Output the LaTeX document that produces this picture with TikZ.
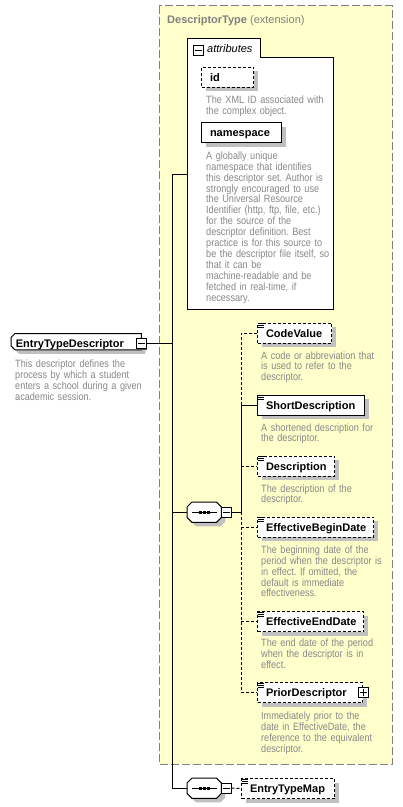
\documentclass[tikz,border=0pt]{standalone}
\usepackage{fontspec}
\setmainfont{Liberation Sans}
\newfontfamily\descfont{Liberation Sans}[FakeStretch=0.86]
\usetikzlibrary{shadows}
\definecolor{ybg}{HTML}{FFFFCC}
\definecolor{ybord}{HTML}{808080}
\definecolor{dgray}{HTML}{888888}
\definecolor{shgray}{HTML}{C0C0C0}
\newcommand\octpath[1]{([xshift=5pt]#1.north west) -- ([xshift=-5pt]#1.north east) -- ([yshift=-5pt]#1.north east) -- ([yshift=5pt]#1.south east) -- ([xshift=-5pt]#1.south east) -- ([xshift=5pt]#1.south west) -- ([yshift=5pt]#1.south west) -- ([yshift=-5pt]#1.north west) -- cycle}
\begin{document}
\frenchspacing
\begin{tikzpicture}[x=1pt,y=-1pt,
  shadowed/.style={drop shadow={shadow xshift=4pt,shadow yshift=-4pt,fill=shgray,opacity=1}},
  elem/.style={draw, fill=white, line width=1pt, inner ysep=0pt, inner xsep=8.5pt, anchor=north west,
    minimum height=20pt, align=left, font=\bfseries\fontsize{11}{13}\selectfont,
    text height=8pt, text depth=0pt, shadowed},
  opt/.style={elem, dash pattern=on 3pt off 2pt},
  desc/.style={anchor=base west, inner sep=0pt, text width=160pt, align=left, text=dgray,
    font=\descfont\fontsize{10.6}{10.9}\selectfont},
  conn/.style={line width=1pt},
  dconn/.style={conn, dash pattern=on 3pt off 2pt},
  ctrl/.style={draw, fill=white, line width=1pt, minimum size=10pt, inner sep=0pt,
    drop shadow={shadow xshift=1pt,shadow yshift=-1pt,fill=black!70,opacity=1}},
  hold/.style={anchor=north west, inner sep=0pt},
]
\useasboundingbox (0,0) rectangle (403,807);
\fill[white] (0,0) rectangle (403,807);

% extension box
\draw[ybord, line width=1pt, dash pattern=on 8pt off 3pt, fill=ybg] (159,5.5) rectangle (392,764);
\node[anchor=base west, inner sep=0pt, text=ybord, font=\fontsize{11}{13}\selectfont] (title) at (167,23)
  {\textbf{DescriptorType} (extension)};

% attributes
\draw[line width=1pt, fill=white] (187,309) -- (187,38) -- (260,38) -- (260,57) -- (333,57) -- (333,309) -- cycle;
\coordinate (attrw) at (187,174);
\node[ctrl] (am) at (198,50) {};
\draw[line width=1pt] ([xshift=2pt]am.west) -- ([xshift=-2pt]am.east);
\node[anchor=base west, inner sep=0pt, font=\itshape\fontsize{11}{13}\selectfont] (attrlbl) at (207,52) {attributes};

\node[opt, text width=35pt] (id) at (201,66.5) {id};
\node[desc] (did) at (206,103.3) {The XML ID associated with\\the complex object.};
\node[elem, text width=63pt] (ns) at (201,122) {namespace};
\node[desc] (dns) at (206,159.3) {A globally unique\\namespace that identifies\\this descriptor set. Author is\\strongly encouraged to use\\the Universal Resource\\Identifier (http, ftp, file, etc.)\\for the source of the\\descriptor definition. Best\\practice is for this source to\\be the descriptor file itself, so\\that it can be\\machine-readable and be\\fetched in real-time, if\\necessary.};

% holders
\node[hold, minimum width=130pt, minimum height=16pt] (etd) at (11,333.5) {};
\node[hold, minimum width=34pt, minimum height=20pt] (seq1) at (187,502) {};
\node[hold, minimum width=34pt, minimum height=20pt] (seq2) at (187,778) {};
\node[ctrl] (etdm) at (141,343.5) {};
\node[ctrl] (m1) at (226,512) {};
\node[ctrl] (m2) at (226,788) {};
\coordinate (tr) at (172.5,174);
\coordinate (br) at (241,300);

% elements
\node[opt, text width=57pt] (cv) at (257,322.5) {CodeValue};
\node[elem, text width=90pt] (sd) at (257,394.5) {ShortDescription};
\node[opt, text width=60pt] (desc) at (257,455.5) {Description};
\node[opt, text width=99pt] (ebd) at (257,516.5) {EffectiveBeginDate};
\node[opt, text width=89pt] (eed) at (257,611) {EffectiveEndDate};
\node[opt, text width=88pt] (pd) at (257,682) {PriorDescriptor};
\node[opt, text width=76pt] (etm) at (241,778) {EntryTypeMap};
\node[ctrl] (pdp) at (363,692) {};
\draw[line width=1pt] ([xshift=2pt]pdp.west) -- ([xshift=-2pt]pdp.east) ([yshift=-2pt]pdp.north) -- ([yshift=2pt]pdp.south);
\foreach \n in {cv,sd,desc,ebd,eed,pd,etm}{
  \foreach \k in {1,3,5}
    \draw[line width=0.7pt] ([xshift=0.5pt,yshift=-\k pt]\n.north west) -- ++(6,0);
}

% connectors
\draw[conn] (etdm.east) -- (etdm.east -| tr);
\draw[conn] (tr) -- (attrw);
\draw[conn] (tr) |- (seq2.west);
\draw[conn] (seq1.west -| tr) -- (seq1.west);
\draw[conn] (m1.east) -- (m1.east -| br);
\draw[dconn] (cv.west) -| (br |- sd.west);
\draw[conn] (br |- sd.west) -- (br |- m1.east);
\draw[dconn] (br |- m1.east) -- (br |- pd.west);
\draw[conn] (br |- sd.west) -- (sd.west);
\draw[dconn] (br |- desc.west) -- (desc.west);
\draw[dconn] (br |- ebd.west) -- (ebd.west);
\draw[dconn] (br |- eed.west) -- (eed.west);
\draw[dconn] (br |- pd.west) -- (pd.west);
\draw[dconn] (m2.east) -- (etm.west);

% ETD shape
\draw[line width=1pt, fill=white, shadowed] ([xshift=4pt]etd.north west) -- (etd.north east) -- (etd.south east) -- ([xshift=4pt]etd.south west) -- ([yshift=4pt]etd.south west) -- ([yshift=-4pt]etd.north west) -- cycle;
\node[anchor=base west, inner sep=0pt, font=\bfseries\fontsize{11}{13}\selectfont] (etdname) at (15.7,347) {EntryTypeDescriptor};
\node[ctrl] (etdm2) at (etdm) {};
\draw[line width=1pt] ([xshift=2pt]etdm2.west) -- ([xshift=-2pt]etdm2.east);
\node[desc] (detd) at (15,367.5) {This descriptor defines the\\process by which a student\\enters a school during a given\\academic session.};

% sequence shapes
\foreach \s/\m in {seq1/m1, seq2/m2}{
  \draw[line width=1pt, fill=white, shadowed] \octpath{\s};
  \draw[line width=1pt] ([xshift=5pt]\s.west) -- ([xshift=-4.5pt]\s.east);
  \foreach \d in {-4,0,4}
    \fill ([xshift=\d pt]\s.center) ++(-1.5,-1.5) rectangle ++(3,3);
  \node[ctrl] at (\m) {};
  \draw[line width=1pt] ([xshift=2pt]\m.west) -- ([xshift=-2pt]\m.east);
}

% descriptions
\node[desc] (dcv) at (261,359) {A code or abbreviation that\\is used to refer to the\\descriptor.};
\node[desc] (dsd) at (261,431) {A shortened description for\\the descriptor.};
\node[desc] (ddesc) at (261,492) {The description of the\\descriptor.};
\node[desc] (debd) at (261,553.3) {The beginning date of the\\period when the descriptor is\\in effect. If omitted, the\\default is immediate\\effectiveness.};
\node[desc] (deed) at (261,646.6) {The end date of the period\\when the descriptor is in\\effect.};
\node[desc] (dpd) at (261,719.3) {Immediately prior to the\\date in EffectiveDate, the\\reference to the equivalent\\descriptor.};
\end{tikzpicture}
\end{document}
